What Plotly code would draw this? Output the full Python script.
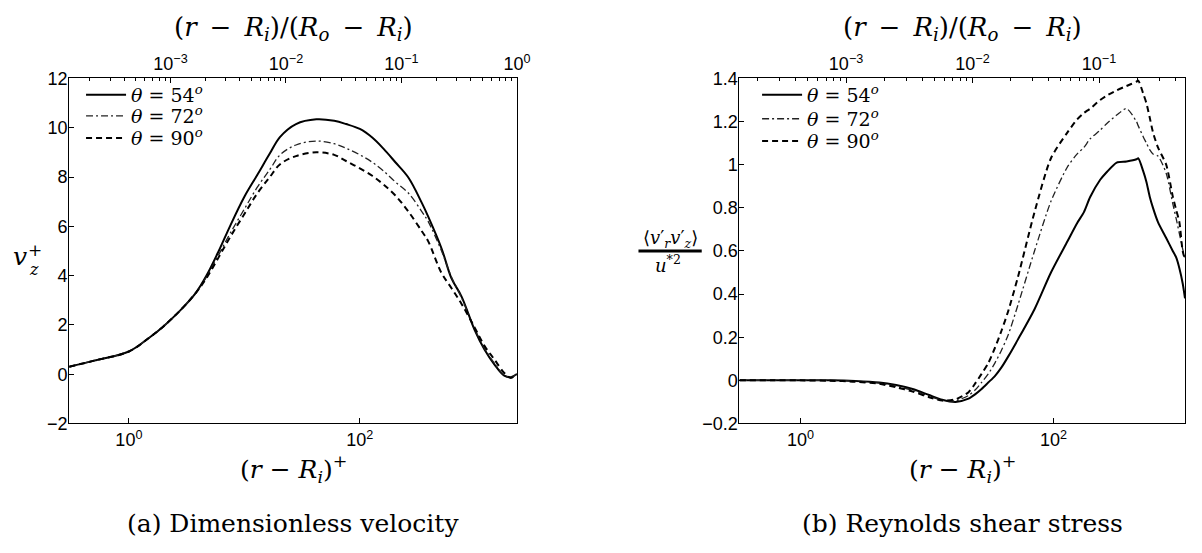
import plotly.graph_objects as go

# ---- (a) dimensionless axial velocity v_z^+ against (r - R_i)^+ ----
rplus_a = [0.304, 0.5, 1.0, 1.5, 2.0, 2.8, 3.8, 4.7, 6, 7.5, 10, 13, 16.6, 20.4, 28, 42,
           60, 76, 100, 128, 160, 203, 263, 344, 390, 510, 620, 760, 985, 1200, 1460,
           1780, 2030, 2290]
vz_54 = [0.30, 0.55, 0.92, 1.48, 1.95, 2.6, 3.3, 4.0, 5.0, 6.0, 7.2, 8.1, 8.95, 9.63, 10.15,
         10.34, 10.28, 10.15, 9.95, 9.6, 9.15, 8.6, 7.98, 6.95, 6.4, 5.1, 3.9, 3.15, 1.8,
         1.0, 0.4, -0.06, -0.12, 0.01]
vz_72 = [0.30, 0.55, 0.92, 1.48, 1.95, 2.6, 3.3, 3.95, 4.85, 5.7, 6.7, 7.6, 8.3, 8.9, 9.3,
         9.46, 9.35, 9.17, 8.9, 8.6, 8.25, 7.8, 7.35, 6.6, 6.2, 5.0, 3.95, 3.1, 1.85,
         1.05, 0.45, -0.04, -0.12, 0.0]
vz_90 = [0.30, 0.55, 0.92, 1.48, 1.95, 2.6, 3.3, 3.9, 4.75, 5.55, 6.5, 7.35, 8.0, 8.52, 8.85,
         9.0, 8.9, 8.65, 8.35, 8.05, 7.7, 7.25, 6.6, 5.8, 5.4, 4.1, 3.5, 2.85, 1.9,
         1.15, 0.6, 0.05, -0.15, 0.0]

# ---- (b) Reynolds shear stress <v_r' v_z'>/u*^2 against (r - R_i)^+ ----
rplus_b = [0.33, 0.6, 1.0, 1.7, 2.7, 4.2, 5.7, 7.7, 10.4, 13.2, 16.8, 21.3, 24, 27, 30.5,
           34.4, 38.8, 43.8, 52.4, 70.8, 95.5, 129, 154, 174, 195, 234, 263, 316, 378,
           453, 468, 512, 543, 576, 612, 670, 778, 877, 933, 989, 1050, 1096]
uv_54 = [0, 0, 0, 0.0, -0.003, -0.01, -0.022, -0.04, -0.068, -0.09, -0.10, -0.085, -0.065,
         -0.04, -0.01, 0.02, 0.06, 0.11, 0.19, 0.33, 0.50, 0.645, 0.73, 0.78, 0.85, 0.93,
         0.965, 1.01, 1.015, 1.025, 1.03, 0.97, 0.92, 0.853, 0.80, 0.734, 0.66, 0.60,
         0.57, 0.52, 0.45, 0.38]
uv_72 = [0, 0, 0, 0.0, -0.004, -0.013, -0.027, -0.046, -0.074, -0.093, -0.095, -0.07,
         -0.045, -0.01, 0.03, 0.08, 0.14, 0.21, 0.35, 0.60, 0.83, 0.99, 1.05, 1.08, 1.12,
         1.16, 1.19, 1.23, 1.26, 1.20, 1.18, 1.13, 1.10, 1.07, 1.05, 1.04, 0.96, 0.82,
         0.75, 0.68, 0.61, 0.56]
uv_90 = [0, 0, 0, -0.002, -0.006, -0.016, -0.032, -0.052, -0.078, -0.094, -0.088, -0.055,
         -0.015, 0.03, 0.08, 0.15, 0.23, 0.32, 0.48, 0.78, 1.03, 1.15, 1.21, 1.24, 1.26,
         1.30, 1.32, 1.345, 1.365, 1.385, 1.39, 1.33, 1.285, 1.22, 1.15, 1.08, 1.0, 0.853,
         0.79, 0.734, 0.60, 0.56]

angle_labels = ["54", "72", "90"]
top_tick_vals = [1e-3, 1e-2, 1e-1, 1e0]
top_tick_text = ["10<sup>\u22123</sup>", "10<sup>\u22122</sup>", "10<sup>\u22121</sup>", "10<sup>0</sup>"]
bottom_tick_vals = [1, 100]
bottom_tick_text = ["10<sup>0</sup>", "10<sup>2</sup>"]

# outer / inner scaling ratio log10((R_o - R_i)^+) used for the top axes
LOG_RATIO = 3.36

W, H = 1202, 553
SANS = "Liberation Sans, Arial, sans-serif"
SERIF = "DejaVu Serif, serif"
MATH = "DejaVu Serif, serif"


def px(x):
    return x / W


def py(y):
    return 1 - y / H


styles = [dict(color="black", width=2, dash="solid"),
          dict(color="#222222", width=1.3, dash="7px,3px,2px,3px"),
          dict(color="black", width=2, dash="6px,4px")]

legend_rows_a = [88, 110, 133]
legend_rows_b = [88, 113, 136]

fig = go.Figure()

for i, (lab, ys, st) in enumerate(zip(angle_labels, [vz_54, vz_72, vz_90], styles)):
    fig.add_trace(go.Scatter(x=rplus_a, y=ys, mode="lines",
                             line=dict(shape="spline", smoothing=1.0, **st),
                             name="<i>\u03b8</i> = " + lab + "<sup><i>o</i></sup>",
                             xaxis="x", yaxis="y",
                             legend="legend" if i == 0 else "legend%d" % (i + 1)))
for i, (lab, ys, st) in enumerate(zip(angle_labels, [uv_54, uv_72, uv_90], styles)):
    fig.add_trace(go.Scatter(x=rplus_b, y=ys, mode="lines",
                             line=dict(shape="spline", smoothing=0.7, **st),
                             name="<i>\u03b8</i> = " + lab + "<sup><i>o</i></sup>",
                             xaxis="x2", yaxis="y2", legend="legend%d" % (i + 4)))

# placeholders so the outer-scaled top axes are drawn
fig.add_trace(go.Scatter(x=[1e-2], y=[None], xaxis="x3", yaxis="y", showlegend=False,
                         hoverinfo="skip"))
fig.add_trace(go.Scatter(x=[1e-2], y=[None], xaxis="x4", yaxis="y2", showlegend=False,
                         hoverinfo="skip"))

dom_y = [py(429), py(71)]
dom_a = [px(70), px(523)]
dom_b = [px(748), px(1199)]

range_a = [-0.517, LOG_RATIO]
range_b = [-0.484, 3.04]

minor_top = [k * 10.0 ** e for e in range(-4, 0) for k in range(2, 10)]
TICKFONT = dict(family=SANS, size=18, color="black")


def bottom_axis(dom, rng, anchor):
    return dict(type="log", domain=dom, range=rng, anchor=anchor,
                showline=True, linecolor="black", linewidth=1, mirror=False,
                ticks="inside", ticklen=5, tickcolor="black", tickwidth=1,
                tickmode="array", tickvals=bottom_tick_vals, ticktext=bottom_tick_text,
                showgrid=False, zeroline=False, tickfont=TICKFONT)


def top_axis(over, anchor, rng):
    return dict(type="log", overlaying=over, anchor=anchor, side="top",
                range=[rng[0] - LOG_RATIO, rng[1] - LOG_RATIO],
                showline=True, linecolor="black", linewidth=1,
                ticks="inside", ticklen=5, tickcolor="black", tickwidth=1,
                tickmode="array", tickvals=top_tick_vals, ticktext=top_tick_text,
                minor=dict(ticks="inside", ticklen=3, tickcolor="black", tickwidth=1,
                           tickmode="array", tickvals=minor_top, showgrid=False),
                showgrid=False, zeroline=False, tickfont=TICKFONT)


def y_axis(anchor, rng, dt):
    return dict(domain=dom_y, anchor=anchor, range=rng, dtick=dt, tick0=0,
                showline=True, linecolor="black", linewidth=1, mirror=True,
                ticks="inside", ticklen=5, tickcolor="black", tickwidth=1,
                ticklabelstandoff=-3,
                showgrid=False, zeroline=False, tickfont=TICKFONT)


def one_legend(x, y):
    return dict(x=px(x), y=py(y), xanchor="left", yanchor="middle",
                bgcolor="rgba(0,0,0,0)", borderwidth=0, itemwidth=40,
                font=dict(family=MATH, size=19, color="black"))


legends = {}
for i in range(3):
    legends["legend" if i == 0 else "legend%d" % (i + 1)] = one_legend(82, legend_rows_a[i])
    legends["legend%d" % (i + 4)] = one_legend(766, legend_rows_b[i])

fig.update_layout(
    width=W, height=H, margin=dict(l=0, r=0, t=0, b=0),
    paper_bgcolor="white", plot_bgcolor="white",
    font=dict(color="black"),
    xaxis=bottom_axis(dom_a, range_a, "y"),
    xaxis2=bottom_axis(dom_b, range_b, "y2"),
    xaxis3=top_axis("x", "y", range_a),
    xaxis4=top_axis("x2", "y2", range_b),
    yaxis=y_axis("x", [-2, 12], 2),
    yaxis2=y_axis("x2", [-0.2, 1.4], 0.2),
    **legends,
)

EN = "\u2002"
top_title = ("(<i>r</i>" + EN + "\u2212" + EN + "<i>R<sub>i</sub></i>)/(<i>R<sub>o</sub></i>"
             + EN + "\u2212" + EN + "<i>R<sub>i</sub></i>)")
bottom_title = "(<i>r</i> \u2212 <i>R<sub>i</sub></i>)<sup>+</sup>"

ann = []
for cx, cap in [(296.5, "(a) Dimensionless velocity"), (973.5, "(b) Reynolds shear stress")]:
    ann.append(dict(x=px(cx), y=py(19), text=top_title, font=dict(family=MATH, size=26)))
    ann.append(dict(x=px(cx), y=py(476), text=bottom_title, font=dict(family=MATH, size=25)))
    ann.append(dict(x=px(cx), y=py(533), text=cap, font=dict(family=SERIF, size=25)))

# v_z^+ label
ann.append(dict(x=px(20), y=py(256), text="<i>v</i>", font=dict(family=MATH, size=25)))
ann.append(dict(x=px(35), y=py(249), text="+", font=dict(family=MATH, size=17)))
ann.append(dict(x=px(34), y=py(269), text="<i>z</i>", font=dict(family=MATH, size=16)))

# <v_r' v_z'> / u*^2 label
ann.append(dict(x=px(678), y=py(238),
                text="\u27e8<i>v</i>\u2032<sub><i>r</i></sub><i>v</i>\u2032<sub><i>z</i></sub>\u27e9",
                font=dict(family=MATH, size=18)))
ann.append(dict(x=px(676), y=py(264), text="<i>u</i><sup>*2</sup>",
                font=dict(family=MATH, size=18)))

for a in ann:
    a.update(xref="paper", yref="paper", showarrow=False, xanchor="center", yanchor="middle")
fig.update_layout(annotations=ann)

fig.add_shape(type="line", xref="paper", yref="paper", x0=px(646), x1=px(710),
              y0=py(250), y1=py(250), line=dict(color="black", width=3))

fig.write_html("out.html")
